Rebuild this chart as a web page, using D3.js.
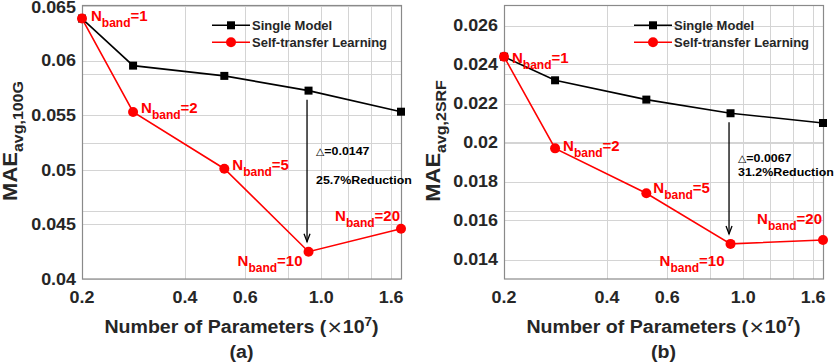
<!DOCTYPE html>
<html>
<head>
<meta charset="utf-8">
<script src="https://cdn.jsdelivr.net/npm/d3@7"></script>
<style>
  body { margin: 0; background: #fff; }
  svg { display: block; font-family: "Liberation Sans", Arial, sans-serif; font-weight: bold; }
</style>
</head>
<body>
<div id="main"></div>
<script>
"use strict";

// number of parameters (x 10^7)
const params = [0.2, 0.282, 0.521, 0.918, 1.71];
const bandLabels = ["1", "2", "5", "10", "20"];

// panel (a): MAE avg,100G
const singleA = [0.06385, 0.05954, 0.0586, 0.05725, 0.05532];
const transferA = [0.06385, 0.0553, 0.0501, 0.0425, 0.0446];
const yTicksA = [0.04, 0.045, 0.05, 0.055, 0.06, 0.065];
const yTickLabelsA = ["0.04", "0.045", "0.05", "0.055", "0.06", "0.065"];
const noteA = ["=0.0147", "25.7%Reduction"];

// panel (b): MAE avg,2SRF
const singleB = [0.0244, 0.02319, 0.0222, 0.0215, 0.0210];
const transferB = [0.0244, 0.0197, 0.0174, 0.0148, 0.0150];
const yTicksB = [0.014, 0.016, 0.018, 0.02, 0.022, 0.024, 0.026];
const yTickLabelsB = ["0.014", "0.016", "0.018", "0.02", "0.022", "0.024", "0.026"];
const noteB = ["=0.0067", "31.2%Reduction"];

const xTicks = [0.2, 0.4, 0.6, 1.0, 1.6];
const xTickLabels = ["0.2", "0.4", "0.6", "1.0", "1.6"];
const xGrid = [0.2, 0.4, 0.6, 0.8, 1.0, 1.2, 1.4, 1.6];
const legendNames = ["Single Model", "Self-transfer Learning"];

const W = 837, H = 362;
const svg = d3.select("#main").append("svg").attr("width", W).attr("height", H);

const textColor = "#262626";
const stretch = 1.12; // the reference glyphs are a bit wider than Liberation Sans

// text placed at (x, y) and widened horizontally around its anchor
function wideText(parent, x, y, anchor, size, sx) {
    return parent.append("text")
        .attr("transform", `translate(${x},${y}) scale(${sx || stretch},1)`)
        .attr("text-anchor", anchor).attr("font-size", size).attr("fill", textColor);
}

function drawPanel(cfg) {
    const g = svg.append("g");
    const x = d3.scaleLog().domain([0.2, 1.71]).range([cfg.left, cfg.left + 319]);
    const y = d3.scaleLinear().domain(cfg.yDomain).range([279, 6]);
    const frac = d3.scaleLinear().domain([0, 1]).range([279, 6]);

    // grid
    const grid = g.append("g").attr("stroke", "#d4d4d4").attr("stroke-width", 1);
    grid.selectAll(".vg").data(xGrid).join("line")
        .attr("x1", d => Math.round(x(d)) + 0.5).attr("x2", d => Math.round(x(d)) + 0.5)
        .attr("y1", 6).attr("y2", 279);
    grid.selectAll(".hg").data(cfg.yTicks).join("line")
        .attr("x1", x.range()[0]).attr("x2", x.range()[1])
        .attr("y1", d => Math.round(y(d)) + 0.5).attr("y2", d => Math.round(y(d)) + 0.5);
    grid.selectAll(".fg").data([0.25, 0.5, 0.75]).join("line")
        .attr("x1", x.range()[0]).attr("x2", x.range()[1])
        .attr("y1", d => Math.round(frac(d)) + 0.5).attr("y2", d => Math.round(frac(d)) + 0.5);

    // box
    g.append("rect")
        .attr("x", x.range()[0] + 0.5).attr("y", 5.5)
        .attr("width", x.range()[1] - x.range()[0]).attr("height", 273.5)
        .attr("fill", "none").attr("stroke", "#8a8a8a").attr("stroke-width", 1.2);

    // tick labels
    cfg.yTicks.forEach((d, i) => {
        wideText(g, x.range()[0] - 6, Math.max(y(d) + 5.8, 13), "end", 16).text(cfg.yTickLabels[i]);
    });
    xTicks.forEach((d, i) => {
        wideText(g, x(d), 303, "middle", 16).text(xTickLabels[i]);
    });

    // axis titles
    const cx = (x.range()[0] + x.range()[1]) / 2;
    const xl = wideText(g, cx, 333, "middle", 17.5);
    xl.append("tspan").text("Number of Parameters (");
    xl.append("tspan").attr("font-weight", "normal").attr("font-family", "DejaVu Sans").text("\u00d7");
    xl.append("tspan").text("10");
    xl.append("tspan").attr("dy", -7).attr("font-size", 12).text("7");
    xl.append("tspan").attr("dy", 7).text(")");
    wideText(g, cx, 358, "middle", 17.5).text(cfg.tag);

    const yl = g.append("text")
        .attr("transform", `translate(${cfg.yTitleX},141) rotate(-90) scale(1.1,1)`)
        .attr("text-anchor", "middle").attr("font-size", 20).attr("fill", textColor);
    yl.append("tspan").text("MAE");
    yl.append("tspan").attr("dy", 6).attr("font-size", 14.5).text(cfg.sub);

    // lines
    const line = d3.line().x(d => x(d[0])).y(d => y(d[1]));
    const single = params.map((p, i) => [p, cfg.single[i]]);
    const transfer = params.map((p, i) => [p, cfg.transfer[i]]);

    g.append("path").datum(single).attr("d", line)
        .attr("fill", "none").attr("stroke", "#000").attr("stroke-width", 1.6);
    g.append("path").datum(transfer).attr("d", line)
        .attr("fill", "none").attr("stroke", "#ff0000").attr("stroke-width", 1.6);
    g.selectAll(".sq").data(single).join("rect")
        .attr("x", d => x(d[0]) - 4).attr("y", d => y(d[1]) - 4)
        .attr("width", 8).attr("height", 8).attr("fill", "#000");
    g.selectAll(".ci").data(transfer).join("circle")
        .attr("cx", d => x(d[0])).attr("cy", d => y(d[1])).attr("r", 5)
        .attr("fill", "#ff0000");

    // N_band labels
    transfer.forEach((d, i) => {
        const o = cfg.labelOffsets[i];
        const t = g.append("text")
            .attr("x", x(d[0]) + o[0]).attr("y", y(d[1]) + o[1])
            .attr("text-anchor", o[2]).attr("font-size", 15).attr("fill", "#ff0000");
        t.append("tspan").text("N");
        t.append("tspan").attr("dy", 6).attr("font-size", 12).text("band");
        t.append("tspan").attr("dy", -6).text("=" + bandLabels[i]);
    });

    // arrow + annotation
    const ax = x(params[3]) - 1.5;
    const y0 = y(cfg.single[3]) + 9;
    const y1 = y(cfg.transfer[3]) - 10;
    g.append("line").attr("x1", ax).attr("x2", ax).attr("y1", y0).attr("y2", y1)
        .attr("stroke", "#000").attr("stroke-width", 1.3);
    g.append("path")
        .attr("d", `M${ax - 3},${y1 - 8} L${ax},${y1} L${ax + 3},${y1 - 8}`)
        .attr("fill", "none").attr("stroke", "#000").attr("stroke-width", 1.3);

    const dt = wideText(g, ax + 9, cfg.annoY[0], "start", 11.5, 1.08).attr("fill", "#000");
    dt.append("tspan").attr("font-weight", "normal").attr("font-family", "DejaVu Sans").attr("font-size", 10).text("\u25b3");
    dt.append("tspan").text(cfg.note[0]);
    wideText(g, ax + 9, cfg.annoY[1], "start", 11.5, 1.08).attr("fill", "#000").text(cfg.note[1]);

    // legend
    const lx = cfg.left + 130;
    [0, 1].forEach(i => {
        const ly = 25.3 + i * 17;
        g.append("line").attr("x1", lx).attr("x2", lx + 38).attr("y1", ly).attr("y2", ly)
            .attr("stroke", i ? "#ff0000" : "#000").attr("stroke-width", 1.6);
        if (i) g.append("circle").attr("cx", lx + 19).attr("cy", ly).attr("r", 5).attr("fill", "#ff0000");
        else g.append("rect").attr("x", lx + 15).attr("y", ly - 4).attr("width", 8).attr("height", 8).attr("fill", "#000");
        wideText(g, lx + 40, ly + 4.5, "start", 12.5, 1.04).text(legendNames[i]);
    });
}

drawPanel({
    left: 82, yDomain: [0.04, 0.065], yTicks: yTicksA, yTickLabels: yTickLabelsA,
    single: singleA, transfer: transferA, sub: "avg,100G", yTitleX: 17, tag: "(a)",
    labelOffsets: [[9, 2, "start"], [8, 1, "start"], [8, 1, "start"], [-6, 14.5, "end"], [-1, -8, "end"]],
    note: noteA, annoY: [155, 184]
});
drawPanel({
    left: 504, yDomain: [0.013, 0.027], yTicks: yTicksB, yTickLabels: yTickLabelsB,
    single: singleB, transfer: transferB, sub: "avg,2SRF", yTitleX: 440, tag: "(b)",
    labelOffsets: [[8, 6.5, "start"], [8, 3, "start"], [7, 0, "start"], [-6, 22.5, "end"], [-1, -16.5, "end"]],
    note: noteB, annoY: [162, 176]
});
</script>
</body>
</html>
